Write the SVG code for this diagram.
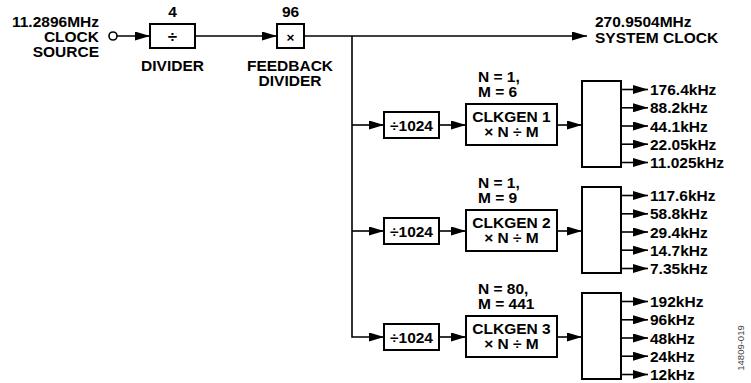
<svg xmlns="http://www.w3.org/2000/svg" width="751" height="383" viewBox="0 0 751 383">
<style>
text{font-family:"Liberation Sans",Arial,sans-serif;font-weight:bold;font-size:15.5px;fill:#000}
.c{text-anchor:middle}
.r{text-anchor:end}
.box{fill:#fff;stroke:#000;stroke-width:2}
.ln{fill:none;stroke:#000;stroke-width:1.6}
.id{font-weight:normal;font-size:9.5px;fill:#444}
</style>
<defs>
<marker id="ah" markerUnits="userSpaceOnUse" markerWidth="15" markerHeight="9" refX="15" refY="4.5" orient="auto">
<path d="M0,0 L15,4.5 L0,9 Z" fill="#000"/>
</marker>
</defs>
<g id="connectors">
<line class="ln" x1="117" y1="36" x2="150" y2="36" marker-end="url(#ah)"/>
<line class="ln" x1="195" y1="36" x2="277" y2="36" marker-end="url(#ah)"/>
<line class="ln" x1="304" y1="36" x2="587" y2="36" marker-end="url(#ah)"/>
<polyline class="ln" points="352,36 352,337 384,337" marker-end="url(#ah)"/>
<line class="ln" x1="352" y1="125" x2="384" y2="125" marker-end="url(#ah)"/>
<line class="ln" x1="352" y1="231" x2="384" y2="231" marker-end="url(#ah)"/>
<line class="ln" x1="439" y1="125" x2="466" y2="125" marker-end="url(#ah)"/>
<line class="ln" x1="439" y1="231" x2="466" y2="231" marker-end="url(#ah)"/>
<line class="ln" x1="439" y1="337" x2="466" y2="337" marker-end="url(#ah)"/>
<line class="ln" x1="557" y1="125" x2="582" y2="125" marker-end="url(#ah)"/>
<line class="ln" x1="557" y1="231" x2="582" y2="231" marker-end="url(#ah)"/>
<line class="ln" x1="557" y1="337" x2="582" y2="337" marker-end="url(#ah)"/>
<g id="out1">
<line class="ln" x1="621" y1="89.5" x2="648" y2="89.5" marker-end="url(#ah)"/>
<line class="ln" x1="621" y1="107.8" x2="648" y2="107.8" marker-end="url(#ah)"/>
<line class="ln" x1="621" y1="126" x2="648" y2="126" marker-end="url(#ah)"/>
<line class="ln" x1="621" y1="144.2" x2="648" y2="144.2" marker-end="url(#ah)"/>
<line class="ln" x1="621" y1="162.5" x2="648" y2="162.5" marker-end="url(#ah)"/>
</g>
<g id="out2">
<line class="ln" x1="621" y1="195.5" x2="648" y2="195.5" marker-end="url(#ah)"/>
<line class="ln" x1="621" y1="213.8" x2="648" y2="213.8" marker-end="url(#ah)"/>
<line class="ln" x1="621" y1="232" x2="648" y2="232" marker-end="url(#ah)"/>
<line class="ln" x1="621" y1="250.2" x2="648" y2="250.2" marker-end="url(#ah)"/>
<line class="ln" x1="621" y1="268.5" x2="648" y2="268.5" marker-end="url(#ah)"/>
</g>
<g id="out3">
<line class="ln" x1="621" y1="301.5" x2="648" y2="301.5" marker-end="url(#ah)"/>
<line class="ln" x1="621" y1="319.8" x2="648" y2="319.8" marker-end="url(#ah)"/>
<line class="ln" x1="621" y1="338" x2="648" y2="338" marker-end="url(#ah)"/>
<line class="ln" x1="621" y1="356.2" x2="648" y2="356.2" marker-end="url(#ah)"/>
<line class="ln" x1="621" y1="374.5" x2="648" y2="374.5" marker-end="url(#ah)"/>
</g>
</g>
<g id="source">
<circle cx="113" cy="36" r="4" fill="#fff" stroke="#000" stroke-width="1.6"/>
<text class="r" x="99" y="26.5">11.2896MHz</text>
<text class="r" x="99" y="41.5">CLOCK</text>
<text class="r" x="99" y="56.5">SOURCE</text>
</g>
<g id="divider">
<rect class="box" x="150" y="24" width="45" height="24"/>
<text class="c" x="172.5" y="17">4</text>
<text class="c" x="172.5" y="42" style="font-size:17px">÷</text>
<text class="c" x="172.5" y="70.5">DIVIDER</text>
</g>
<g id="feedback">
<rect class="box" x="277" y="24" width="27" height="24"/>
<text class="c" x="290.5" y="17">96</text>
<text class="c" x="290.5" y="41.5" style="font-size:13.5px">×</text>
<text class="c" x="290" y="70.5">FEEDBACK</text>
<text class="c" x="290" y="85.5">DIVIDER</text>
</g>
<g id="sysclk">
<text x="595" y="27">270.9504MHz</text>
<text x="595" y="43">SYSTEM CLOCK</text>
</g>
<g id="div1">
<rect class="box" x="384" y="112" width="55" height="26"/>
<text class="c" x="411.5" y="130.5">÷1024</text>
</g>
<g id="clkgen1">
<text x="478" y="82">N = 1,</text>
<text x="478" y="96.5">M = 6</text>
<rect class="box" x="466" y="104" width="91" height="41"/>
<text class="c" x="511.5" y="122">CLKGEN 1</text>
<text class="c" x="511.5" y="137">× N ÷ M</text>
</g>
<g id="mux1">
<rect class="box" x="582" y="81" width="39" height="86"/>
<text x="650" y="95">176.4kHz</text>
<text x="650" y="113.3">88.2kHz</text>
<text x="650" y="131.5">44.1kHz</text>
<text x="650" y="149.7">22.05kHz</text>
<text x="650" y="168">11.025kHz</text>
</g>
<g id="div2">
<rect class="box" x="384" y="218" width="55" height="26"/>
<text class="c" x="411.5" y="236.5">÷1024</text>
</g>
<g id="clkgen2">
<text x="478" y="188">N = 1,</text>
<text x="478" y="202.5">M = 9</text>
<rect class="box" x="466" y="210" width="91" height="41"/>
<text class="c" x="511.5" y="228">CLKGEN 2</text>
<text class="c" x="511.5" y="243">× N ÷ M</text>
</g>
<g id="mux2">
<rect class="box" x="582" y="187" width="39" height="86"/>
<text x="650" y="201">117.6kHz</text>
<text x="650" y="219.3">58.8kHz</text>
<text x="650" y="237.5">29.4kHz</text>
<text x="650" y="255.7">14.7kHz</text>
<text x="650" y="274">7.35kHz</text>
</g>
<g id="div3">
<rect class="box" x="384" y="324" width="55" height="26"/>
<text class="c" x="411.5" y="342.5">÷1024</text>
</g>
<g id="clkgen3">
<text x="478" y="294">N = 80,</text>
<text x="478" y="308.5">M = 441</text>
<rect class="box" x="466" y="316" width="91" height="41"/>
<text class="c" x="511.5" y="334">CLKGEN 3</text>
<text class="c" x="511.5" y="349">× N ÷ M</text>
</g>
<g id="mux3">
<rect class="box" x="582" y="293" width="39" height="86"/>
<text x="650" y="307">192kHz</text>
<text x="650" y="325.3">96kHz</text>
<text x="650" y="343.5">48kHz</text>
<text x="650" y="361.7">24kHz</text>
<text x="650" y="380">12kHz</text>
</g>
<text class="id c" transform="translate(744,348) rotate(-90)">14809-019</text>
</svg>
